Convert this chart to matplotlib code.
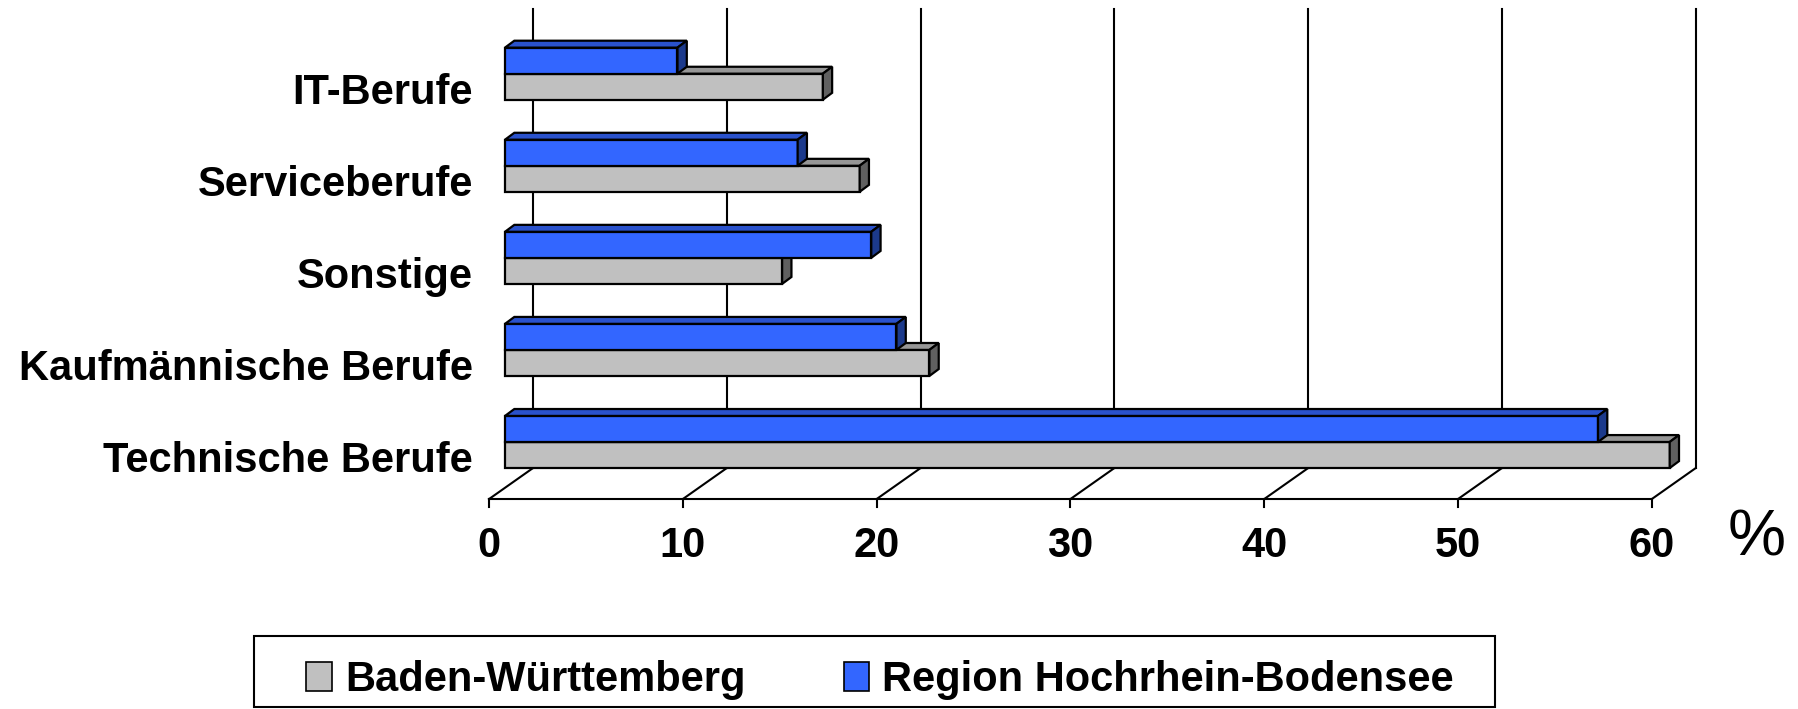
import matplotlib.pyplot as plt
from matplotlib.patches import Polygon, Rectangle, Patch

# Data (percent)
categories = ['Technische Berufe', 'Kaufmännische Berufe', 'Sonstige',
              'Serviceberufe', 'IT-Berufe']
baden_wuerttemberg = [60.1, 21.9, 14.3, 18.3, 16.4]
hochrhein_bodensee = [56.4, 20.2, 18.9, 15.1, 8.9]
x_ticks = [0, 10, 20, 30, 40, 50, 60]
series_labels = ['Baden-Württemberg', 'Region Hochrhein-Bodensee']

# face colours: front, top, side
GREY = ('#C0C0C0', '#969696', '#606060')
BLUE = ('#3366FF', '#2A52CC', '#1C3A8C')

FONT = ['Liberation Sans', 'Arial', 'DejaVu Sans']

# pseudo 3D geometry (data units)
BAR_H = 0.283
BAR_DX, BAR_DY = 0.48, 0.075
WALL_DX = 1.445          # back wall shift from bar front plane
AXIS_DX = -0.826         # front floor edge shift
FLOOR_BACK_Y = -0.283
FLOOR_FRONT_Y = -0.62
WALL_TOP_Y = 4.707
EDGE_LW = 1.6

fig = plt.figure(figsize=(17.98, 7.09), dpi=100)
ax = fig.add_axes([0, 0, 1, 1])
ax.set_xlim(-26.06, 66.72)
ax.set_ylim(-2.90, 4.80)
ax.axis('off')

# back wall gridlines, floor lines and front axis
for t in x_ticks:
    ax.plot([t + WALL_DX] * 2, [FLOOR_BACK_Y, WALL_TOP_Y], color='black', lw=1.5, zorder=1)
    ax.plot([t + AXIS_DX, t + WALL_DX], [FLOOR_FRONT_Y, FLOOR_BACK_Y], color='black', lw=1.5, zorder=1)
    ax.plot([t + AXIS_DX] * 2, [FLOOR_FRONT_Y, FLOOR_FRONT_Y - 0.09], color='black', lw=1.5, zorder=1)
    ax.text(t + AXIS_DX, -1.25, str(t), ha='center', va='baseline',
            fontsize=30, fontweight='bold', family=FONT)
ax.plot([x_ticks[0] + AXIS_DX, x_ticks[-1] + AXIS_DX], [FLOOR_FRONT_Y] * 2,
        color='black', lw=1.5, zorder=1)


def bar3d(y0, value, colors, z):
    front, top, side = colors
    ax.barh(y0, value, height=BAR_H, align='edge', color=front,
            edgecolor='black', lw=EDGE_LW, zorder=z)
    y1 = y0 + BAR_H
    ax.add_patch(Polygon([(0, y1), (value, y1), (value + BAR_DX, y1 + BAR_DY),
                          (BAR_DX, y1 + BAR_DY)], closed=True, facecolor=top,
                         edgecolor='black', lw=EDGE_LW, zorder=z))
    ax.add_patch(Polygon([(value, y0), (value, y1), (value + BAR_DX, y1 + BAR_DY),
                          (value + BAR_DX, y0 + BAR_DY)], closed=True, facecolor=side,
                         edgecolor='black', lw=EDGE_LW, zorder=z))


for i, (bw, hb) in enumerate(zip(baden_wuerttemberg, hochrhein_bodensee)):
    bar3d(i - BAR_H, bw, GREY, 2)
    bar3d(i, hb, BLUE, 3)
    ax.text(-1.65, i - 0.33, categories[i], ha='right', va='baseline',
            fontsize=30, fontweight='bold', family=FONT)

ax.text(64.6, -1.235, '%', ha='center', va='baseline', fontsize=47, family=FONT)

# legend with its own frame
fig.patches.append(Rectangle((254 / 1798, 1 - 707 / 709), (1495 - 254) / 1798, 71 / 709,
                             transform=fig.transFigure, facecolor='none',
                             edgecolor='black', lw=1.5))
handles = [Patch(facecolor=GREY[0], edgecolor='black', lw=1.2),
           Patch(facecolor=BLUE[0], edgecolor='black', lw=1.2)]
fig.legend(handles, series_labels, loc='center left',
           bbox_to_anchor=(306 / 1798, 1 - 680 / 709), frameon=False, ncol=2,
           borderpad=0, borderaxespad=0, handlelength=0.62, handleheight=0.67,
           handletextpad=0.31, columnspacing=2.36,
           prop={'family': FONT, 'weight': 'bold', 'size': 30})

plt.savefig('out.png', dpi=100)
